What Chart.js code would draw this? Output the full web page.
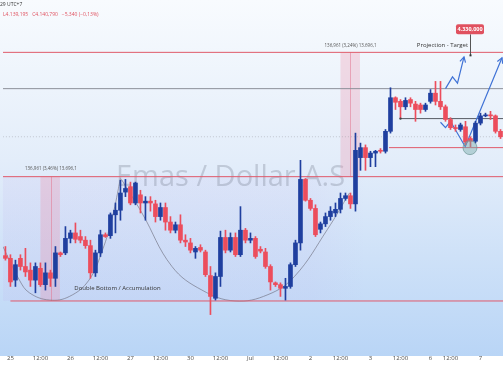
<!DOCTYPE html>
<html><head><meta charset="utf-8">
<script src="https://cdn.jsdelivr.net/npm/chart.js@4.4.1/dist/chart.umd.min.js"></script>
<style>html,body{margin:0;padding:0;background:#fff;overflow:hidden}canvas{display:block}</style>
</head><body>
<canvas id="c" width="503" height="378"></canvas>
<script>
// ---- data (2h candles, XAU/USD) ----
const opens=[4106,4103,4079,4103,4094,4090,4079,4092,4074,4087,
4081,4109,4109,4125,4131,4127,4123,4117,4087,4109,
4129,4128,4151,4156,4176,4182,4164,4173,4164,4166,
4163,4149,4159,4143,4134,4140,4123,4120,4110,4115,
4110,4084,4059,4083,4126,4112,4126,4107,4134,4123,
4125,4113,4110,4094,4076,4074,4070,4072,4096,4120,
4190,4167,4158,4135,4141,4149,4153,4157,4169,4172,
4163,4214,4225,4214,4219,4222,4221,4243,4280,4276,
4270,4278,4273,4272,4267,4276,4285,4276,4270,4256,
4247,4245,4248,4235,4232,4252,4260,4261,4260,4243];
const highs=[4116,4107,4101,4107,4114,4098,4098,4098,4098,4090,
4116,4110,4138,4134,4142,4134,4127,4123,4112,4134,
4131,4153,4164,4189,4190,4187,4187,4178,4171,4171,
4167,4164,4164,4149,4143,4151,4129,4125,4116,4118,
4112,4094,4087,4133,4134,4131,4131,4160,4136,4131,
4127,4116,4114,4096,4077,4076,4081,4098,4123,4211,
4191,4169,4162,4143,4153,4160,4164,4175,4175,4175,
4241,4230,4228,4221,4222,4224,4245,4291,4281,4278,
4280,4280,4276,4274,4274,4289,4298,4298,4272,4258,
4250,4252,4254,4237,4254,4263,4263,4265,4261,4245];
const lows=[4101,4072,4072,4090,4083,4072,4065,4072,4068,4072,
4072,4105,4107,4120,4120,4120,4114,4081,4083,4105,
4126,4125,4131,4145,4171,4162,4162,4153,4145,4155,
4143,4145,4134,4131,4131,4120,4116,4109,4103,4110,
4083,4041,4057,4072,4109,4110,4105,4105,4120,4120,
4103,4109,4092,4068,4072,4061,4057,4070,4094,4112,
4166,4156,4127,4131,4138,4145,4149,4153,4167,4158,
4155,4200,4200,4204,4204,4219,4219,4241,4267,4258,
4267,4270,4254,4263,4265,4274,4272,4267,4254,4245,
4243,4243,4228,4226,4230,4250,4259,4256,4241,4235];
const closes=[4103,4077,4096,4094,4088,4079,4094,4074,4087,4081,
4109,4107,4125,4131,4124,4123,4117,4087,4109,4129,
4127,4151,4156,4175,4180,4164,4186,4164,4166,4164,
4149,4159,4143,4134,4140,4123,4121,4112,4114,4112,
4085,4061,4083,4126,4112,4126,4107,4134,4123,4125,
4105,4111,4094,4077,4074,4070,4072,4096,4120,4190,
4167,4158,4129,4141,4149,4155,4157,4169,4172,4163,
4222,4225,4214,4219,4221,4221,4243,4280,4275,4270,
4277,4274,4267,4267,4272,4285,4276,4270,4256,4247,
4246,4250,4231,4232,4252,4260,4261,4260,4243,4237];

const tickIdx=[1,7,13,19,25,31,37,43,49,55,61,67,73,79,85,89,95];
const tickLabels=['25','12:00','26','12:00','27','12:00','30','12:00','Jul','12:00','2','12:00','3','12:00','6','12:00','7'];

// horizontal levels
const targetLevel=4330, resistLevel=4290, dottedLevel=4237, neckLevel=4257, retestLevel=4225, breakoutLevel=4193, supportLevel=4056;
const neckStart=79.0, retestStart=76.7, supportStart=1.0;

// cup arcs (candle index, price)
const leftCupX=[-0.5,2.8,4.8,8.8,12.8,16.7,19.4,21.4,23.0];
const leftCupY=[4116,4079,4065,4057,4061,4079,4112,4149,4191];
const midCupX=[23.2,27.3,33.3,39.3,45.9,52.5,57.8,64.4,68.8];
const midCupY=[4190,4153,4094,4068,4056,4063,4083,4135,4175];

// projection paths
const zigX=[88.0,89.4,90.4,91.7];
const zigY=[4290,4303,4296,4325];
const vX=[87.0,88.0,89.0,91.95,99.3];
const vY=[4253,4247,4254,4226,4324];

// measure bands
const band1={x0:7.0,x1:10.9,mid:9.1,lo:supportLevel,hi:breakoutLevel,label:'136,961 (3,46%) 13.696,1'};
const band2={x0:67.0,x1:70.9,mid:69.0,lo:breakoutLevel,hi:targetLevel,label:'136,961 (3,24%) 13.696,1'};
const targetMark={x:92.9,price:targetLevel,text:'4.330,000'};
const retestCircle={x:92.9,price:retestLevel};

const RED='#ec4d5c', BLUE='#1f3f9f', LINE_RED='#e05a6a';
const FONT="'Open Sans','Noto Sans',sans-serif";
const idx=opens.map((_,i)=>i);
const cols=opens.map((o,i)=>closes[i]>=o?BLUE:RED);

function hline(level,start,color,width,dash,order){
  return {type:'line',data:[{x:start,y:level},{x:99.5,y:level}],borderColor:color,borderWidth:width,borderDash:dash||[],pointRadius:0,tension:0,order:order||5};
}
function path(xs,ys,color,width,tension,order){
  return {type:'line',data:xs.map((x,i)=>({x:x,y:ys[i]})),borderColor:color,borderWidth:width,pointRadius:0,tension:tension,order:order};
}

const bg={
  id:'bg',
  beforeDraw(chart){
    const c=chart.ctx;
    const g=c.createLinearGradient(0,0,0,356);
    g.addColorStop(0,'#f8fbfe');g.addColorStop(0.45,'#e3edfa');g.addColorStop(1,'#b9d5f6');
    c.save();c.fillStyle=g;c.fillRect(0,0,503,356);c.restore();
  },
  beforeDatasetsDraw(chart){
    const c=chart.ctx,x=chart.scales.x,y=chart.scales.y;
    c.save();
    // tinted accumulation zone (soft edge)
    const zx0=x.getPixelForValue(-0.5),zx1=x.getPixelForValue(72);
    const zg=c.createLinearGradient(zx0,0,zx1,0);
    zg.addColorStop(0,'rgba(190,170,235,0.13)');zg.addColorStop(0.85,'rgba(190,170,235,0.10)');zg.addColorStop(1,'rgba(190,170,235,0)');
    c.fillStyle=zg;
    c.fillRect(zx0,y.getPixelForValue(breakoutLevel),zx1-zx0,y.getPixelForValue(supportLevel)-y.getPixelForValue(breakoutLevel));
    // watermark
    c.font='500 29px '+FONT;c.fillStyle='rgba(105,110,130,0.28)';c.textBaseline='middle';c.textAlign='left';
    c.fillText('Emas / Dollar A.S',116,y.getPixelForValue(4193)+1,236);
    // measure bands
    for(const b of [band1,band2]){
      const x0=x.getPixelForValue(b.x0),x1=x.getPixelForValue(b.x1),y0=y.getPixelForValue(b.hi),y1=y.getPixelForValue(b.lo);
      c.fillStyle='rgba(240,140,165,0.28)';c.fillRect(x0,y0,x1-x0,y1-y0);
      c.strokeStyle='rgba(225,120,145,0.55)';c.lineWidth=1;
      const xm=Math.round(x.getPixelForValue(b.mid))+0.5;
      c.beginPath();c.moveTo(xm,y0);c.lineTo(xm,y1);c.stroke();
    }
    c.restore();
  },
  afterDatasetsDraw(chart){
    const c=chart.ctx,x=chart.scales.x,y=chart.scales.y;
    c.save();
    function head(xs,ys){
      const n=xs.length;
      const px=x.getPixelForValue(xs[n-1]),py=y.getPixelForValue(ys[n-1]);
      const qx=x.getPixelForValue(xs[n-2]),qy=y.getPixelForValue(ys[n-2]);
      const a=Math.atan2(py-qy,px-qx),L=6;
      c.beginPath();
      c.moveTo(px-L*Math.cos(a-0.5),py-L*Math.sin(a-0.5));c.lineTo(px,py);
      c.lineTo(px-L*Math.cos(a+0.5),py-L*Math.sin(a+0.5));c.stroke();
    }
    c.strokeStyle='#3f72d6';c.lineWidth=1.2;
    head(zigX,zigY);head(vX,vY);
    c.beginPath();c.arc(x.getPixelForValue(retestCircle.x),y.getPixelForValue(retestCircle.price),7,0,Math.PI*2);
    c.fillStyle='rgba(120,170,170,0.45)';c.fill();c.strokeStyle='rgba(110,150,150,0.7)';c.lineWidth=1;c.stroke();
    c.fillStyle='#444';c.beginPath();c.arc(x.getPixelForValue(neckStart),y.getPixelForValue(neckLevel),1.2,0,Math.PI*2);c.fill();
    c.textAlign='center';c.textBaseline='middle';
    c.font='4.5px '+FONT;c.fillStyle='#555';
    c.fillText(band1.label,x.getPixelForValue(band1.mid),y.getPixelForValue(band1.hi)-8);
    c.fillText(band2.label,x.getPixelForValue(band2.mid),y.getPixelForValue(band2.hi)-7);
    c.font='6px '+FONT;c.fillStyle='#333';
    c.fillText('Projection - Target',x.getPixelForValue(87.4),y.getPixelForValue(targetLevel)-7);
    c.fillText('Double Bottom / Accumulation',x.getPixelForValue(22.4),y.getPixelForValue(4070.5));
    const tx=x.getPixelForValue(targetMark.x),ty=y.getPixelForValue(targetMark.price);
    c.strokeStyle='#555';c.lineWidth=1;
    c.beginPath();c.moveTo(Math.round(tx)+0.5,ty-18);c.lineTo(Math.round(tx)+0.5,ty+3);c.stroke();
    c.fillStyle='#333';c.fillRect(Math.round(tx)-0.5,ty+2,2,2);
    c.fillStyle='#e0515f';
    c.beginPath();c.roundRect(tx-14,ty-28,28,10,2);c.fill();
    c.fillStyle='#fff';c.font='bold 5.5px '+FONT;c.fillText(targetMark.text,tx,ty-23);
    c.restore();
  },
  afterDraw(chart){
    const c=chart.ctx;
    c.save();c.textAlign='left';c.textBaseline='middle';
    c.font='5px '+FONT;c.fillStyle='#333';c.fillText('29 UTC+7',0,5);
    c.fillStyle='#e0515f';c.fillText('L4.139,195   C4.140,790   \u22125,340 (\u22120,13%)',3,15);
    c.restore();
  }
};

const datasets=[
  {type:'bar',data:idx.map(i=>({x:i,y:[Math.min(opens[i],closes[i]),Math.max(opens[i],closes[i])]})),backgroundColor:cols,barThickness:4,minBarLength:1,grouped:false,order:0},
  {type:'bar',data:idx.map(i=>({x:i,y:[lows[i],highs[i]]})),backgroundColor:cols,barThickness:1,grouped:false,order:1},
  hline(targetLevel,-0.5,LINE_RED,1,null,6),
  hline(resistLevel,-0.5,'#8c9099',1,null,6),
  hline(dottedLevel,-0.5,'rgba(150,150,160,0.45)',1,[1,2],6),
  hline(neckLevel,neckStart,'#555a63',1,null,6),
  hline(retestLevel,retestStart,LINE_RED,1,null,6),
  hline(breakoutLevel,-0.5,LINE_RED,1,null,6),
  hline(supportLevel,supportStart,LINE_RED,1,null,6),
  path(leftCupX,leftCupY,'rgba(105,105,120,0.6)',1,0.4,7),
  path(midCupX,midCupY,'rgba(105,105,120,0.6)',1,0.4,7),
  path(zigX,zigY,'#3f72d6',1.2,0,2),
  path(vX,vY,'#3f72d6',1.2,0,2)
];

new Chart(document.getElementById('c'),{
  type:'bar',
  data:{datasets:datasets},
  options:{
    responsive:false,animation:false,
    layout:{padding:0},
    plugins:{legend:{display:false},tooltip:{enabled:false}},
    scales:{
      x:{type:'linear',min:-0.5,max:99.5,offset:false,
        grid:{display:false},border:{display:false},
        afterBuildTicks:s=>{s.ticks=tickIdx.map(v=>({value:v}));},
        afterFit:s=>{s.height=38;},
        ticks:{autoSkip:false,maxRotation:0,padding:7,color:'#4a4a4a',font:{size:6,family:FONT},
          callback:(v,i)=>tickLabels[i]}},
      y:{type:'linear',display:false,min:4013,max:4387.7,beginAtZero:false}
    }
  },
  plugins:[bg]
});
</script>
</body></html>
